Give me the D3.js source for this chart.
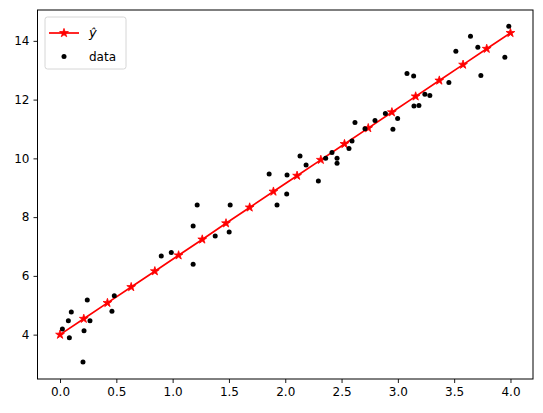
<!DOCTYPE html>
<html>
<head>
<meta charset="utf-8">
<script src="https://cdn.jsdelivr.net/npm/d3@7"></script>
<style>
  body { margin: 0; background: #fff; }
  text { font-family: "DejaVu Sans", sans-serif; }
</style>
</head>
<body>
<div id="chart"></div>
<script>
/**
 * DATA
 * */
const dataX = [
  0.021, 0.074, 0.083, 0.100, 0.204, 0.213, 0.242, 0.266, 0.461, 0.482,
  0.899, 0.988, 1.182, 1.182, 1.218, 1.378, 1.502, 1.511, 1.857, 1.927,
  2.013, 2.016, 2.131, 2.185, 2.294, 2.359, 2.415, 2.460, 2.460, 2.566,
  2.593, 2.619, 2.708, 2.797, 2.889, 2.956, 2.998, 3.081, 3.140, 3.143,
  3.187, 3.240, 3.284, 3.453, 3.515, 3.645, 3.710, 3.737, 3.950, 3.985
];
const dataY = [
  4.19, 4.47, 3.89, 4.77, 3.07, 4.13, 5.18, 4.47, 4.80, 5.32,
  6.68, 6.80, 7.70, 6.40, 8.41, 7.36, 7.49, 8.41, 9.47, 8.41,
  8.79, 9.43, 10.08, 9.77, 9.23, 10.00, 10.20, 10.00, 9.83, 10.34,
  10.59, 11.22, 11.01, 11.29, 11.53, 10.99, 11.36, 12.89, 12.80, 11.78,
  11.80, 12.18, 12.14, 12.58, 13.65, 14.16, 13.78, 12.82, 13.44, 14.50
];
// fitted line, 20 evenly spaced points from 0 to 4
const fitX = [
  0.000, 0.211, 0.421, 0.632, 0.842, 1.053, 1.263, 1.474, 1.684, 1.895,
  2.105, 2.316, 2.526, 2.737, 2.947, 3.158, 3.368, 3.579, 3.789, 4.000
];
const fitY = [
  4.00, 4.54, 5.08, 5.62, 6.16, 6.70, 7.24, 7.79, 8.33, 8.87,
  9.41, 9.95, 10.49, 11.03, 11.57, 12.11, 12.65, 13.19, 13.73, 14.27
];
const xTicks = [0, 0.5, 1, 1.5, 2, 2.5, 3, 3.5, 4];
const yTicks = [4, 6, 8, 10, 12, 14];

/**
 * CONSTANTS
 * */
const width = 543,
  height = 413,
  margin = { top: 10, bottom: 34, left: 37.5, right: 10 };

const svg = d3.select("#chart")
  .append("svg")
  .attr("width", width)
  .attr("height", height);

const x = d3.scaleLinear()
  .domain([-0.2, 4.2])
  .range([margin.left, width - margin.right]);

const y = d3.scaleLinear()
  .domain([2.49, 15.05])
  .range([height - margin.bottom, margin.top]);

// axes
const xAxis = svg.append("g")
  .attr("transform", `translate(0,${height - margin.bottom})`)
  .call(d3.axisBottom(x).tickValues(xTicks).tickFormat(d3.format(".1f")).tickSizeOuter(0).tickSize(4).tickPadding(4));

const yAxis = svg.append("g")
  .attr("transform", `translate(${margin.left},0)`)
  .call(d3.axisLeft(y).tickValues(yTicks).tickSizeOuter(0).tickSize(4).tickPadding(4));

[xAxis, yAxis].forEach(g => {
  g.select(".domain").remove();
  g.selectAll("line").attr("stroke", "#000").attr("stroke-width", 0.9);
  g.selectAll("text")
    .attr("fill", "#000")
    .style("font-size", "12px")
    .style("font-family", "DejaVu Sans");
});

// frame
svg.append("rect")
  .attr("x", x.range()[0])
  .attr("y", y.range()[1])
  .attr("width", x.range()[1] - x.range()[0])
  .attr("height", y.range()[0] - y.range()[1])
  .attr("fill", "none")
  .attr("stroke", "#000")
  .attr("stroke-width", 1);

// fitted line
const line = d3.line()
  .x((d, i) => x(fitX[i]))
  .y(d => y(d));

svg.append("path")
  .datum(fitY)
  .attr("d", line)
  .attr("fill", "none")
  .attr("stroke", "red")
  .attr("stroke-width", 1.7);

const star = d3.symbol().type(d3.symbolStar).size(24);

svg.append("g")
  .selectAll("path")
  .data(fitY)
  .join("path")
  .attr("d", star)
  .attr("transform", (d, i) => `translate(${x(fitX[i])},${y(d)})`)
  .attr("fill", "red")
  .attr("stroke", "red")
  .attr("stroke-width", 0.8);

// data points
svg.append("g")
  .selectAll("circle")
  .data(dataY)
  .join("circle")
  .attr("cx", (d, i) => x(dataX[i]))
  .attr("cy", d => y(d))
  .attr("r", 2.5)
  .attr("fill", "#000");

// legend
const legend = svg.append("g").attr("transform", "translate(45,17)");

legend.append("rect")
  .attr("width", 81)
  .attr("height", 52)
  .attr("rx", 2.5)
  .attr("fill", "rgba(255,255,255,0.8)")
  .attr("stroke", "#ccc")
  .attr("stroke-width", 0.8);

legend.append("line")
  .attr("x1", 4).attr("x2", 34)
  .attr("y1", 16).attr("y2", 16)
  .attr("stroke", "red")
  .attr("stroke-width", 1.7);

legend.append("path")
  .attr("d", star)
  .attr("transform", "translate(19,16)")
  .attr("fill", "red")
  .attr("stroke", "red")
  .attr("stroke-width", 0.8);

legend.append("text")
  .attr("x", 44)
  .attr("y", 20)
  .style("font-size", "13px")
  .style("font-style", "italic")
  .text("ŷ");

legend.append("circle")
  .attr("cx", 19)
  .attr("cy", 39.5)
  .attr("r", 2.5)
  .attr("fill", "#000");

legend.append("text")
  .attr("x", 44)
  .attr("y", 44)
  .style("font-size", "12px")
  .text("data");
</script>
</body>
</html>
